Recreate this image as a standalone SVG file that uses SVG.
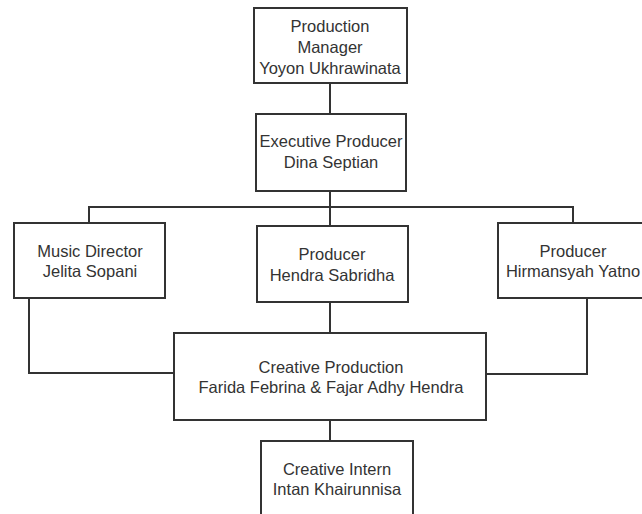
<svg xmlns="http://www.w3.org/2000/svg" width="642" height="514" viewBox="0 0 642 514">
<style>
.box{fill:#fff;stroke:#333;stroke-width:2}
.con{fill:none;stroke:#333;stroke-width:2}
text{font-family:"Liberation Sans",Arial,sans-serif;font-size:16.5px;fill:#333;text-anchor:middle}
</style>
<rect width="642" height="514" fill="#fff"/>
<g id="connectors">
<path class="con" d="M330 83V114"/>
<path class="con" d="M330 191V226"/>
<path class="con" d="M89 223V207H573V223"/>
<path class="con" d="M330 302V333"/>
<path class="con" d="M29 298V373H174"/>
<path class="con" d="M587 298V374H486"/>
<path class="con" d="M330 420V441"/>
</g>
<g id="production-manager">
<rect class="box" x="254" y="8" width="153" height="75"/>
<text x="330" y="32">Production</text>
<text x="330" y="53">Manager</text>
<text x="330" y="74">Yoyon Ukhrawinata</text>
</g>
<g id="executive-producer">
<rect class="box" x="256" y="114" width="150" height="77"/>
<text x="331" y="147">Executive Producer</text>
<text x="331" y="168">Dina Septian</text>
</g>
<g id="music-director">
<rect class="box" x="14" y="223" width="151" height="75"/>
<text x="90" y="257">Music Director</text>
<text x="90" y="277">Jelita Sopani</text>
</g>
<g id="producer-hendra">
<rect class="box" x="257" y="226" width="151" height="76"/>
<text x="332" y="260">Producer</text>
<text x="332" y="281">Hendra Sabridha</text>
</g>
<g id="producer-hirmansyah">
<rect class="box" x="498" y="223" width="152" height="75"/>
<text x="573" y="257">Producer</text>
<text x="573" y="277">Hirmansyah Yatno</text>
</g>
<g id="creative-production">
<rect class="box" x="174" y="333" width="312" height="87"/>
<text x="331" y="373">Creative Production</text>
<text x="331" y="393">Farida Febrina &amp; Fajar Adhy Hendra</text>
</g>
<g id="creative-intern">
<rect class="box" x="261" y="441" width="152" height="80"/>
<text x="337" y="475">Creative Intern</text>
<text x="337" y="495">Intan Khairunnisa</text>
</g>
</svg>
